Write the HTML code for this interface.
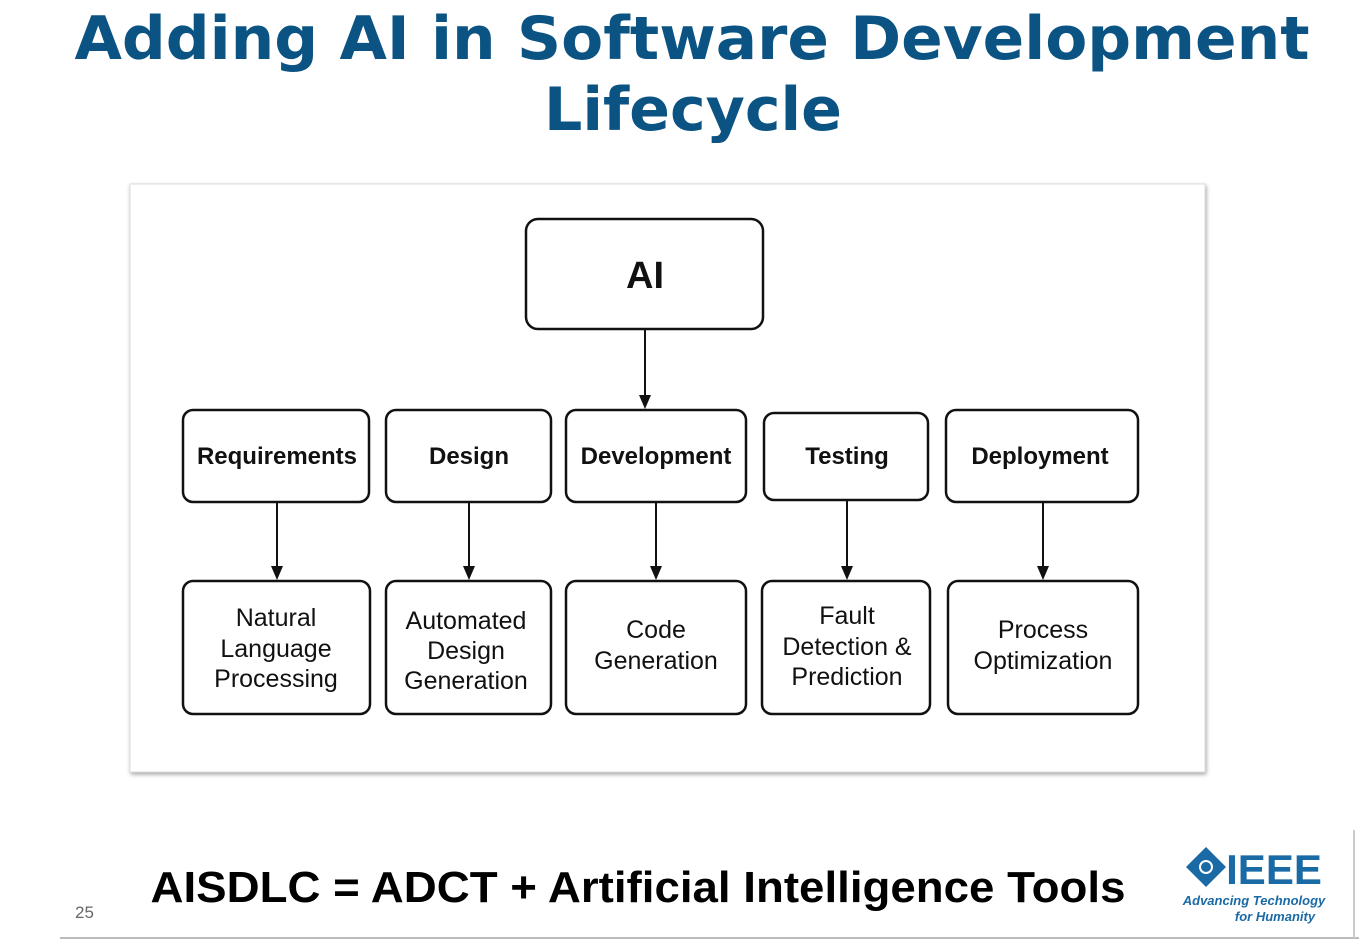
<!DOCTYPE html>
<html><head><meta charset="utf-8"><style>
html,body{margin:0;padding:0;background:#fff;}
body{width:1359px;height:949px;position:relative;overflow:hidden;font-family:"Liberation Sans",sans-serif;}
</style></head><body>
<svg width="1359" height="949" xmlns="http://www.w3.org/2000/svg" style="position:absolute;left:0;top:0">
<defs>
<filter id="sh" x="-5%" y="-5%" width="110%" height="110%"><feDropShadow dx="1" dy="2" stdDeviation="2" flood-color="#000" flood-opacity="0.35"/></filter>
</defs>
<g font-family="DejaVu Sans, sans-serif" font-weight="bold" fill="#0b5383" font-size="60" text-anchor="middle">
<text x="692" y="59" textLength="1235" lengthAdjust="spacingAndGlyphs">Adding AI in Software Development</text>
<text x="693" y="130" textLength="298" lengthAdjust="spacingAndGlyphs">Lifecycle</text>
</g>
<rect x="130" y="184" width="1075" height="588" fill="#fff" stroke="#ddd" filter="url(#sh)"/>
<g fill="#fff" stroke="#111" stroke-width="2.5">
<rect x="526" y="219" width="237" height="110" rx="12"/>
<rect x="183" y="410" width="186" height="92" rx="10"/>
<rect x="386" y="410" width="165" height="92" rx="10"/>
<rect x="566" y="410" width="180" height="92" rx="10"/>
<rect x="764" y="413" width="164" height="87" rx="10"/>
<rect x="946" y="410" width="192" height="92" rx="10"/>
<rect x="183" y="581" width="187" height="133" rx="10"/>
<rect x="386" y="581" width="165" height="133" rx="10"/>
<rect x="566" y="581" width="180" height="133" rx="10"/>
<rect x="762" y="581" width="168" height="133" rx="10"/>
<rect x="948" y="581" width="190" height="133" rx="10"/>
</g>
<g stroke="#111" stroke-width="2">
<line x1="645" y1="330" x2="645" y2="398"/>
<line x1="277" y1="503" x2="277" y2="569"/>
<line x1="469" y1="503" x2="469" y2="569"/>
<line x1="656" y1="503" x2="656" y2="569"/>
<line x1="847" y1="501" x2="847" y2="569"/>
<line x1="1043" y1="503" x2="1043" y2="569"/>
</g>
<g fill="#111">
<path d="M639,395 L651,395 L645,409 Z"/>
<path d="M271,566 L283,566 L277,580 Z"/>
<path d="M463,566 L475,566 L469,580 Z"/>
<path d="M650,566 L662,566 L656,580 Z"/>
<path d="M841,566 L853,566 L847,580 Z"/>
<path d="M1037,566 L1049,566 L1043,580 Z"/>
</g>
<g font-family="Liberation Sans, sans-serif" fill="#111" text-anchor="middle">
<text x="645" y="288" font-size="38" font-weight="bold">AI</text>
<g font-size="24" font-weight="bold">
<text x="277" y="464">Requirements</text>
<text x="469" y="464">Design</text>
<text x="656" y="464">Development</text>
<text x="847" y="464">Testing</text>
<text x="1040" y="464">Deployment</text>
</g>
<g font-size="25">
<text x="276" y="626">Natural</text><text x="276" y="657">Language</text><text x="276" y="687">Processing</text>
<text x="466" y="629">Automated</text><text x="466" y="659">Design</text><text x="466" y="689">Generation</text>
<text x="656" y="638">Code</text><text x="656" y="669">Generation</text>
<text x="847" y="624">Fault</text><text x="847" y="655">Detection &amp;</text><text x="847" y="685">Prediction</text>
<text x="1043" y="638">Process</text><text x="1043" y="669">Optimization</text>
</g>
</g>
<text x="638" y="902" font-family="Liberation Sans, sans-serif" font-weight="bold" font-size="44" fill="#000" text-anchor="middle" textLength="975" lengthAdjust="spacingAndGlyphs">AISDLC = ADCT + Artificial Intelligence Tools</text>
<text x="75" y="918" font-family="Liberation Sans, sans-serif" font-size="17" fill="#666">25</text>
<g fill="#1a6aa6">
<path d="M1206,847 L1226,867 L1206,887 L1186,867 Z"/>
<text x="1274" y="884" font-family="Liberation Sans, sans-serif" font-weight="bold" font-size="42" text-anchor="middle">IEEE</text>
<text x="1254" y="905" font-family="Liberation Sans, sans-serif" font-style="italic" font-weight="bold" font-size="13" text-anchor="middle">Advancing Technology</text>
<text x="1275" y="921" font-family="Liberation Sans, sans-serif" font-style="italic" font-weight="bold" font-size="13" text-anchor="middle">for Humanity</text>
</g>
<circle cx="1206" cy="867" r="6" fill="none" stroke="#fff" stroke-width="2"/>
<line x1="60" y1="938" x2="1359" y2="938" stroke="#bbb" stroke-width="2"/>
<line x1="1354" y1="830" x2="1354" y2="938" stroke="#ccc" stroke-width="2"/>
</svg>
</body></html>
